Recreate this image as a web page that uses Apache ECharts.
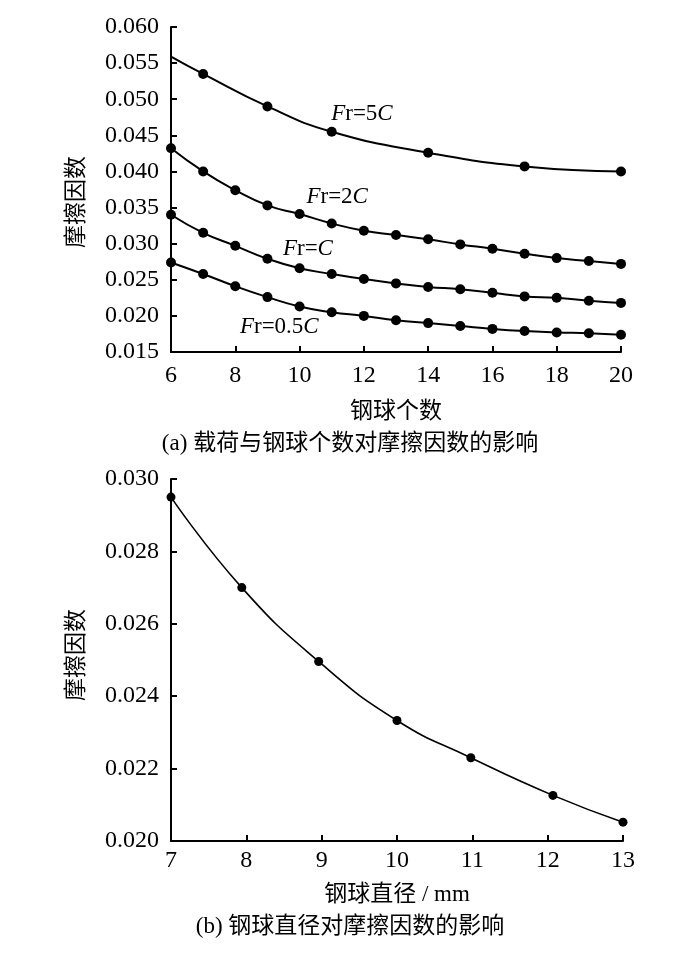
<!DOCTYPE html>
<html>
<head>
<meta charset="utf-8">
<script src="https://cdn.jsdelivr.net/npm/echarts@6/dist/echarts.min.js"></script>
<style>
  html, body { margin: 0; padding: 0; background: #ffffff; }
  #main { width: 700px; height: 953px; }
</style>
</head>
<body>
<div id="main"></div>
<script>
// (a) 钢球个数 vs 摩擦因数
var ballCount = [6, 7, 8, 9, 10, 11, 12, 13, 14, 15, 16, 17, 18, 19, 20];
var count5C = [6, 7, 9, 11, 14, 17, 20];
var fr5C = [0.0559, 0.0535, 0.0490, 0.0455, 0.0426, 0.0407, 0.0400];
var fr2C = [0.0432, 0.0400, 0.0374, 0.0353, 0.0341, 0.0328, 0.0318, 0.0312, 0.0306, 0.0299, 0.0293, 0.0286, 0.0280, 0.0276, 0.0272];
var fr1C = [0.0340, 0.0315, 0.0297, 0.0279, 0.0266, 0.0258, 0.0251, 0.0245, 0.0240, 0.0237, 0.0232, 0.0227, 0.0225, 0.0221, 0.0218];
var fr05C = [0.0274, 0.0258, 0.0241, 0.0226, 0.0213, 0.0205, 0.0200, 0.0194, 0.0190, 0.0186, 0.0182, 0.0179, 0.0177, 0.0176, 0.0174];
// 曲线标注位置 [x, y]
var labelPos = {
  '5C': [11.94, 0.0479],
  '2C': [11.17, 0.0364],
  'C': [10.26, 0.0292],
  '0.5C': [9.37, 0.0185]
};

// (b) 钢球直径 vs 摩擦因数
var diameter = [7, 7.94, 8.96, 10, 10.98, 12.07, 13];
var frDiameter = [0.0295, 0.0270, 0.02496, 0.02333, 0.0223, 0.02126, 0.02052];

var FONT = "'Liberation Serif', 'Noto Sans CJK SC', serif";

function pairs(xs, ys) {
  var out = [];
  for (var i in xs) out.push([xs[i], ys[i]]);
  return out;
}

function curveLabel(key, text) {
  return {
    symbol: 'circle',
    symbolSize: 0.1,
    itemStyle: { color: 'rgba(0,0,0,0)' },
    label: {
      show: true,
      position: 'inside',
      formatter: text,
      color: '#000',
      fontFamily: FONT,
      fontSize: 23,
      rich: {
        i: { fontStyle: 'italic', fontFamily: FONT, fontSize: 23, color: '#000' }
      }
    },
    data: [{ coord: labelPos[key] }]
  };
}

function lineSeries(x, y, data, size, width, mark) {
  return {
    type: 'line',
    xAxisIndex: x,
    yAxisIndex: y,
    data: data,
    smooth: true,
    symbol: 'circle',
    symbolSize: size,
    itemStyle: { color: '#000' },
    lineStyle: { color: '#000', width: width },
    markPoint: mark,
    animation: false,
    z: 3
  };
}

var axisCommon = {
  axisLine: { show: true, lineStyle: { color: '#000', width: 2 } },
  axisTick: { show: true, inside: true, length: 6, lineStyle: { color: '#000', width: 2 } },
  splitLine: { show: false },
  nameTextStyle: { color: '#000', fontFamily: FONT, fontSize: 23 }
};

function xAx(grid, min, max, interval, name, gap, margin) {
  return Object.assign({}, axisCommon, {
    type: 'value', gridIndex: grid, min: min, max: max, interval: interval,
    name: name, nameLocation: 'middle', nameGap: gap,
    axisLabel: { color: '#000', fontFamily: FONT, fontSize: 24, margin: margin }
  });
}

function yAx(grid, min, max, interval) {
  return Object.assign({}, axisCommon, {
    type: 'value', gridIndex: grid, min: min, max: max, interval: interval,
    axisLabel: {
      color: '#000', fontFamily: FONT, fontSize: 24, margin: 12,
      formatter: function (v) { return v.toFixed(3); }
    }
  });
}

function vText(x, y) {
  return {
    type: 'text', x: x, y: y, rotation: Math.PI / 2,
    style: { text: '摩擦因数', fill: '#000', font: '23px ' + FONT, align: 'center', verticalAlign: 'middle' }
  };
}

var data5C = pairs(count5C, fr5C);
data5C[0] = { value: data5C[0], symbol: 'none' };

var option = {
  backgroundColor: '#ffffff',
  animation: false,
  grid: [
    { left: 171, right: 79, top: 27, bottom: 601 },
    { left: 171, right: 77, top: 479, bottom: 112 }
  ],
  xAxis: [
    xAx(0, 6, 20, 2, '钢球个数', 48, 12),
    xAx(1, 7, 13, 1, '钢球直径 / mm', 42, 8)
  ],
  yAxis: [
    yAx(0, 0.015, 0.060, 0.005),
    yAx(1, 0.020, 0.030, 0.002)
  ],
  graphic: [
    vText(77, 202),
    vText(77, 655),
    {
      type: 'text', left: 'center', top: 432,
      style: { text: '(a) 载荷与钢球个数对摩擦因数的影响', fill: '#000', font: '23px ' + FONT }
    },
    {
      type: 'text', left: 'center', top: 915,
      style: { text: '(b) 钢球直径对摩擦因数的影响', fill: '#000', font: '23px ' + FONT }
    }
  ],
  series: [
    lineSeries(0, 0, data5C, 10, 2, curveLabel('5C', '{i|F}r=5{i|C}')),
    lineSeries(0, 0, pairs(ballCount, fr2C), 10, 2, curveLabel('2C', '{i|F}r=2{i|C}')),
    lineSeries(0, 0, pairs(ballCount, fr1C), 10, 2, curveLabel('C', '{i|F}r={i|C}')),
    lineSeries(0, 0, pairs(ballCount, fr05C), 10, 2, curveLabel('0.5C', '{i|F}r=0.5{i|C}')),
    lineSeries(1, 1, pairs(diameter, frDiameter), 9, 1.6, null)
  ]
};

var chart = echarts.init(document.getElementById('main'), null, { renderer: 'canvas' });
chart.setOption(option);
</script>
</body>
</html>
